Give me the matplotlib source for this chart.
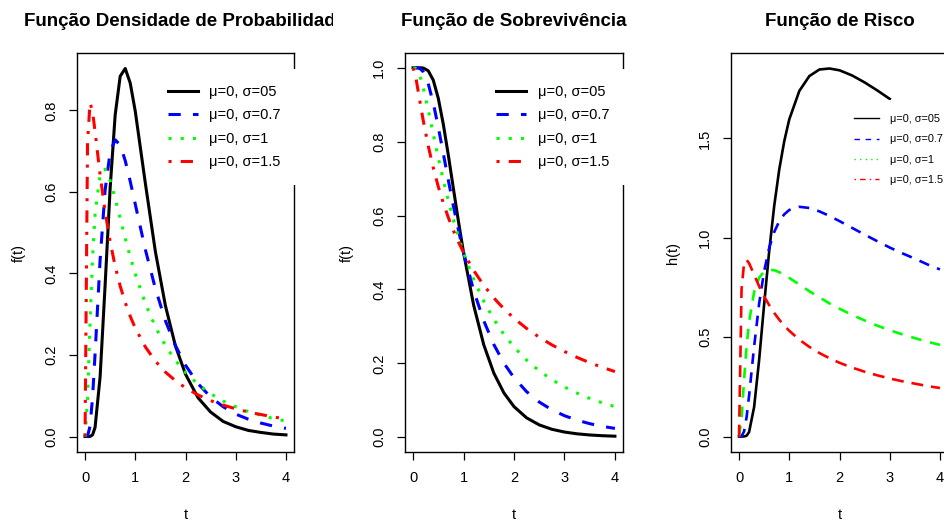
import matplotlib
matplotlib.use('Agg')
import matplotlib.pyplot as plt
from matplotlib.lines import Line2D
from matplotlib.transforms import Bbox, TransformedBbox

plt.rcParams['font.family'] = ['Liberation Sans', 'DejaVu Sans']

# Time values read along the x axis
t = [0, 0.05, 0.1, 0.15, 0.2, 0.3, 0.4, 0.5, 0.6, 0.7, 0.8, 0.9, 1.0,
     1.2, 1.4, 1.6, 1.8, 2.0, 2.25, 2.5, 2.75, 3.0, 3.25, 3.5, 3.75, 4.0]

# Density f(t) for each sigma
f_05 = [0, 0.0, 0.0002, 0.004, 0.0225, 0.1465, 0.372, 0.610, 0.789, 0.884, 0.903, 0.867, 0.798,
        0.622, 0.454, 0.321, 0.222, 0.153, 0.095, 0.060, 0.037, 0.024, 0.015, 0.010, 0.006, 0.004]
f_07 = [0, 0.0012, 0.0255, 0.0965, 0.203, 0.433, 0.605, 0.698, 0.728, 0.715, 0.677, 0.626, 0.570,
        0.459, 0.363, 0.284, 0.223, 0.175, 0.1295, 0.097, 0.073, 0.055, 0.0425, 0.033, 0.0256, 0.020]
f_10 = [0, 0.090, 0.282, 0.440, 0.546, 0.644, 0.656, 0.628, 0.584, 0.535, 0.486, 0.441, 0.399,
        0.327, 0.269, 0.223, 0.1865, 0.157, 0.128, 0.105, 0.087, 0.073, 0.061, 0.052, 0.044, 0.038]
f_15 = [0, 0.724, 0.819, 0.797, 0.748, 0.642, 0.552, 0.478, 0.418, 0.369, 0.329, 0.295, 0.266,
        0.220, 0.185, 0.158, 0.137, 0.1195, 0.102, 0.088, 0.077, 0.068, 0.060, 0.054, 0.048, 0.043]

# Survival S(t) for each sigma
s_05 = [1, 1, 1, 1, 0.9994, 0.992, 0.9666, 0.9172, 0.8465, 0.7622, 0.6723, 0.5834, 0.5,
        0.3577, 0.2505, 0.1736, 0.1199, 0.0828, 0.0524, 0.0334, 0.0215, 0.0140, 0.0092, 0.0061, 0.0041, 0.0028]
s_07 = [1, 1, 0.9995, 0.9966, 0.9893, 0.9573, 0.9047, 0.8389, 0.7672, 0.6948, 0.625, 0.5599, 0.5,
        0.3973, 0.3154, 0.251, 0.2005, 0.1611, 0.1233, 0.0953, 0.0742, 0.0583, 0.0461, 0.0367, 0.0295, 0.0238]
s_10 = [1, 0.9986, 0.9893, 0.9711, 0.9462, 0.8857, 0.8203, 0.7559, 0.6953, 0.6393, 0.5883, 0.542, 0.5,
        0.4277, 0.3682, 0.3192, 0.2783, 0.2441, 0.2087, 0.1797, 0.1559, 0.136, 0.1193, 0.1051, 0.0931, 0.0828]
s_15 = [1, 0.9771, 0.9376, 0.897, 0.8583, 0.7889, 0.7294, 0.678, 0.6333, 0.594, 0.5591, 0.528, 0.5,
        0.4516, 0.4113, 0.377, 0.3476, 0.322, 0.2944, 0.2706, 0.25, 0.232, 0.216, 0.2018, 0.1891, 0.1777]

# Hazard h(t) for each sigma (the black curve stops at t = 3)
h_05 = [0, 0, 0.0002, 0.004, 0.0225, 0.148, 0.385, 0.666, 0.932, 1.160, 1.343, 1.486, 1.596,
        1.739, 1.814, 1.847, 1.852, 1.843, 1.817, 1.782, 1.742, 1.699]
h_07 = [0, 0.0012, 0.0255, 0.0969, 0.205, 0.452, 0.669, 0.832, 0.949, 1.029, 1.083, 1.118, 1.140,
        1.156, 1.150, 1.133, 1.110, 1.084, 1.050, 1.016, 0.983, 0.951, 0.922, 0.895, 0.866, 0.841]
h_10 = [0, 0.090, 0.285, 0.453, 0.577, 0.727, 0.799, 0.830, 0.839, 0.837, 0.827, 0.813, 0.798,
        0.765, 0.731, 0.700, 0.670, 0.643, 0.612, 0.584, 0.558, 0.535, 0.514, 0.495, 0.477, 0.461]
h_15 = [0, 0.741, 0.873, 0.889, 0.872, 0.814, 0.756, 0.705, 0.661, 0.622, 0.588, 0.558, 0.532,
        0.487, 0.451, 0.420, 0.394, 0.371, 0.347, 0.326, 0.308, 0.292, 0.278, 0.266, 0.254, 0.244]

labels = ['μ=0, σ=05', 'μ=0, σ=0.7', 'μ=0, σ=1', 'μ=0, σ=1.5']
colors = ['black', 'blue', '#00ff00', 'red']
dashes = [None, (4, 4), (1, 3), (1, 3, 4, 3)]
dashes_risk = [None, (4, 3.2), (4, 3.4), (4.5, 3)]

W, H = 944, 522
fig = plt.figure(figsize=(W / 100, H / 100), dpi=100)


def make_axes(left, right, top=53, bottom=452):
    # axes placed in pixel coordinates of the figure
    return fig.add_axes([left / W, 1 - bottom / H, (right - left) / W, (bottom - top) / H])


def style(ax, ylim, yticks, ylabel, title):
    ax.set_xlim(-0.16, 4.16)
    ax.set_ylim(*ylim)
    ax.set_xticks([0, 1, 2, 3, 4])
    ax.set_xticklabels(['0', '1', '2', '3', '4'])
    ax.set_yticks(yticks)
    ax.set_yticklabels([f'{v:.1f}' for v in yticks], rotation=90, va='center')
    ax.tick_params(direction='out', length=6, width=0.9, labelsize=10.5, colors='black')
    ax.tick_params(axis='x', pad=8)
    ax.tick_params(axis='y', pad=7.5)
    for s in ax.spines.values():
        s.set_linewidth(1.0)
    ax.set_xlabel('t', fontsize=10.5, va='center')
    ax.xaxis.set_label_coords(0.5, -63 / 399)
    ax.set_ylabel(ylabel, fontsize=10.5, va='center')
    ax.yaxis.set_label_coords(-58 / 217, 0.5)
    ax.set_title(title, fontsize=13.5, fontweight='bold', pad=19.4)


def big_legend(ax):
    handles = [Line2D([], [], color=c, lw=2.2, dashes=d) if d else Line2D([], [], color=c, lw=2.2)
               for c, d in zip(colors, dashes)]
    leg = ax.legend(handles, labels, loc='upper left', bbox_to_anchor=(0.345, 0.96),
                    fontsize=10.5, frameon=True, facecolor='white', edgecolor='none',
                    framealpha=1, fancybox=False, handlelength=2.05, handletextpad=0.8,
                    labelspacing=0.64, borderpad=1.1, borderaxespad=0)
    leg.set_zorder(5)


# Panel 1: density
ax1 = make_axes(77, 294)
for y, c, d in zip([f_05, f_07, f_10, f_15], colors, dashes):
    line, = ax1.plot(t, y, color=c, lw=2.2)
    if d:
        line.set_dashes(d)
style(ax1, (-0.038, 0.941), [0, 0.2, 0.4, 0.6, 0.8], 'f(t)',
      'Função Densidade de Probabilidade')
big_legend(ax1)
# the title is cut at the edge of its figure region
ax1.title.set_clip_box(TransformedBbox(Bbox.from_extents(0, 0, 333 / W, 1), fig.transFigure))
ax1.title.set_clip_on(True)

# Panel 2: survival
ax2 = make_axes(405, 623)
for y, c, d in zip([s_05, s_07, s_10, s_15], colors, dashes):
    line, = ax2.plot(t, y, color=c, lw=2.2)
    if d:
        line.set_dashes(d)
style(ax2, (-0.04, 1.04), [0, 0.2, 0.4, 0.6, 0.8, 1.0], 'f(t)', 'Função de Sobrevivência')
big_legend(ax2)

# Panel 3: hazard
ax3 = make_axes(731, 948)
for y, c, d in zip([h_05, h_07, h_10, h_15], colors, dashes_risk):
    line, = ax3.plot(t[:len(y)], y, color=c, lw=1.9)
    if d:
        line.set_dashes(d)
style(ax3, (-0.078, 1.93), [0, 0.5, 1.0, 1.5], 'h(t)', 'Função de Risco')
small = [Line2D([], [], color=c, lw=1.0, dashes=d) if d else Line2D([], [], color=c, lw=1.0)
         for c, d in zip(colors, dashes)]
leg3 = ax3.legend(small, labels, loc='upper left', bbox_to_anchor=(0.501, 0.882),
                  fontsize=7.8, frameon=True, facecolor='white', edgecolor='none',
                  framealpha=1, fancybox=False, handlelength=2.3, handletextpad=1.0,
                  labelspacing=0.95, borderpad=1.3, borderaxespad=0)
leg3.set_zorder(5)

plt.savefig('out.png', dpi=100)
